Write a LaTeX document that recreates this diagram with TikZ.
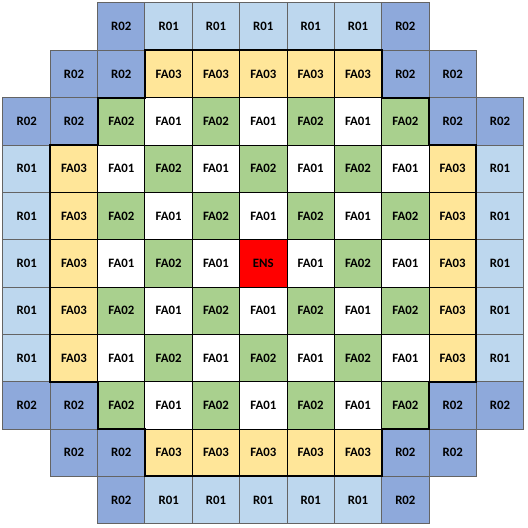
\documentclass[tikz,border=0pt]{standalone}
\usepackage{fontspec}
\setmainfont{Carlito}
\usepackage{ifthen}
\usepackage{tikz}
\usetikzlibrary{positioning}
\usepackage{xcolor}
\definecolor{refdark}{RGB}{142,169,219}
\definecolor{reflight}{RGB}{189,215,238}
\definecolor{fuelyellow}{RGB}{255,230,153}
\definecolor{fuelgreen}{RGB}{169,208,142}
\definecolor{ensred}{RGB}{255,0,0}
\definecolor{gridgray}{RGB}{100,100,100}

\begin{document}
\begin{tikzpicture}[
    cell/.style={draw=gridgray,line width=0.6pt,minimum size=1cm,inner sep=0pt,
      font=\fontsize{7.7}{9}\selectfont\bfseries},
    R01/.style={cell,fill=reflight},
    R02/.style={cell,fill=refdark},
    FA01/.style={cell,draw=black,fill=white},
    FA02/.style={cell,draw=black,fill=fuelgreen},
    FA03/.style={cell,draw=black,fill=fuelyellow},
    ENS/.style={cell,draw=black,fill=ensred}]
    \useasboundingbox (-0.063,0.063) rectangle (11.091,-11.091);
    % core map, one list per row, x = empty position
    \foreach \row [count=\r from 0] in {
      {x,x,R02,R01,R01,R01,R01,R01,R02,x,x},
      {x,R02,R02,FA03,FA03,FA03,FA03,FA03,R02,R02,x},
      {R02,R02,FA02,FA01,FA02,FA01,FA02,FA01,FA02,R02,R02},
      {R01,FA03,FA01,FA02,FA01,FA02,FA01,FA02,FA01,FA03,R01},
      {R01,FA03,FA02,FA01,FA02,FA01,FA02,FA01,FA02,FA03,R01},
      {R01,FA03,FA01,FA02,FA01,ENS,FA01,FA02,FA01,FA03,R01},
      {R01,FA03,FA02,FA01,FA02,FA01,FA02,FA01,FA02,FA03,R01},
      {R01,FA03,FA01,FA02,FA01,FA02,FA01,FA02,FA01,FA03,R01},
      {R02,R02,FA02,FA01,FA02,FA01,FA02,FA01,FA02,R02,R02},
      {x,R02,R02,FA03,FA03,FA03,FA03,FA03,R02,R02,x},
      {x,x,R02,R01,R01,R01,R01,R01,R02,x,x}} {
      \foreach \lab [count=\c from 0] in \row {
        \ifthenelse{\equal{\lab}{x}}{}{%
          \node[\lab] (cell-\r-\c) at (\c+0.5,-\r-0.5) {\lab};}
      }
    }
    % fuel region outline
    \draw[line width=1.3pt,line join=miter] (3,-1) -- (8,-1) -- (8,-2) -- (9,-2) -- (9,-3)
      -- (10,-3) -- (10,-8) -- (9,-8) -- (9,-9) -- (8,-9) -- (8,-10) -- (3,-10)
      -- (3,-9) -- (2,-9) -- (2,-8) -- (1,-8) -- (1,-3) -- (2,-3) -- (2,-2)
      -- (3,-2) -- cycle;
  \end{tikzpicture}
\end{document}
